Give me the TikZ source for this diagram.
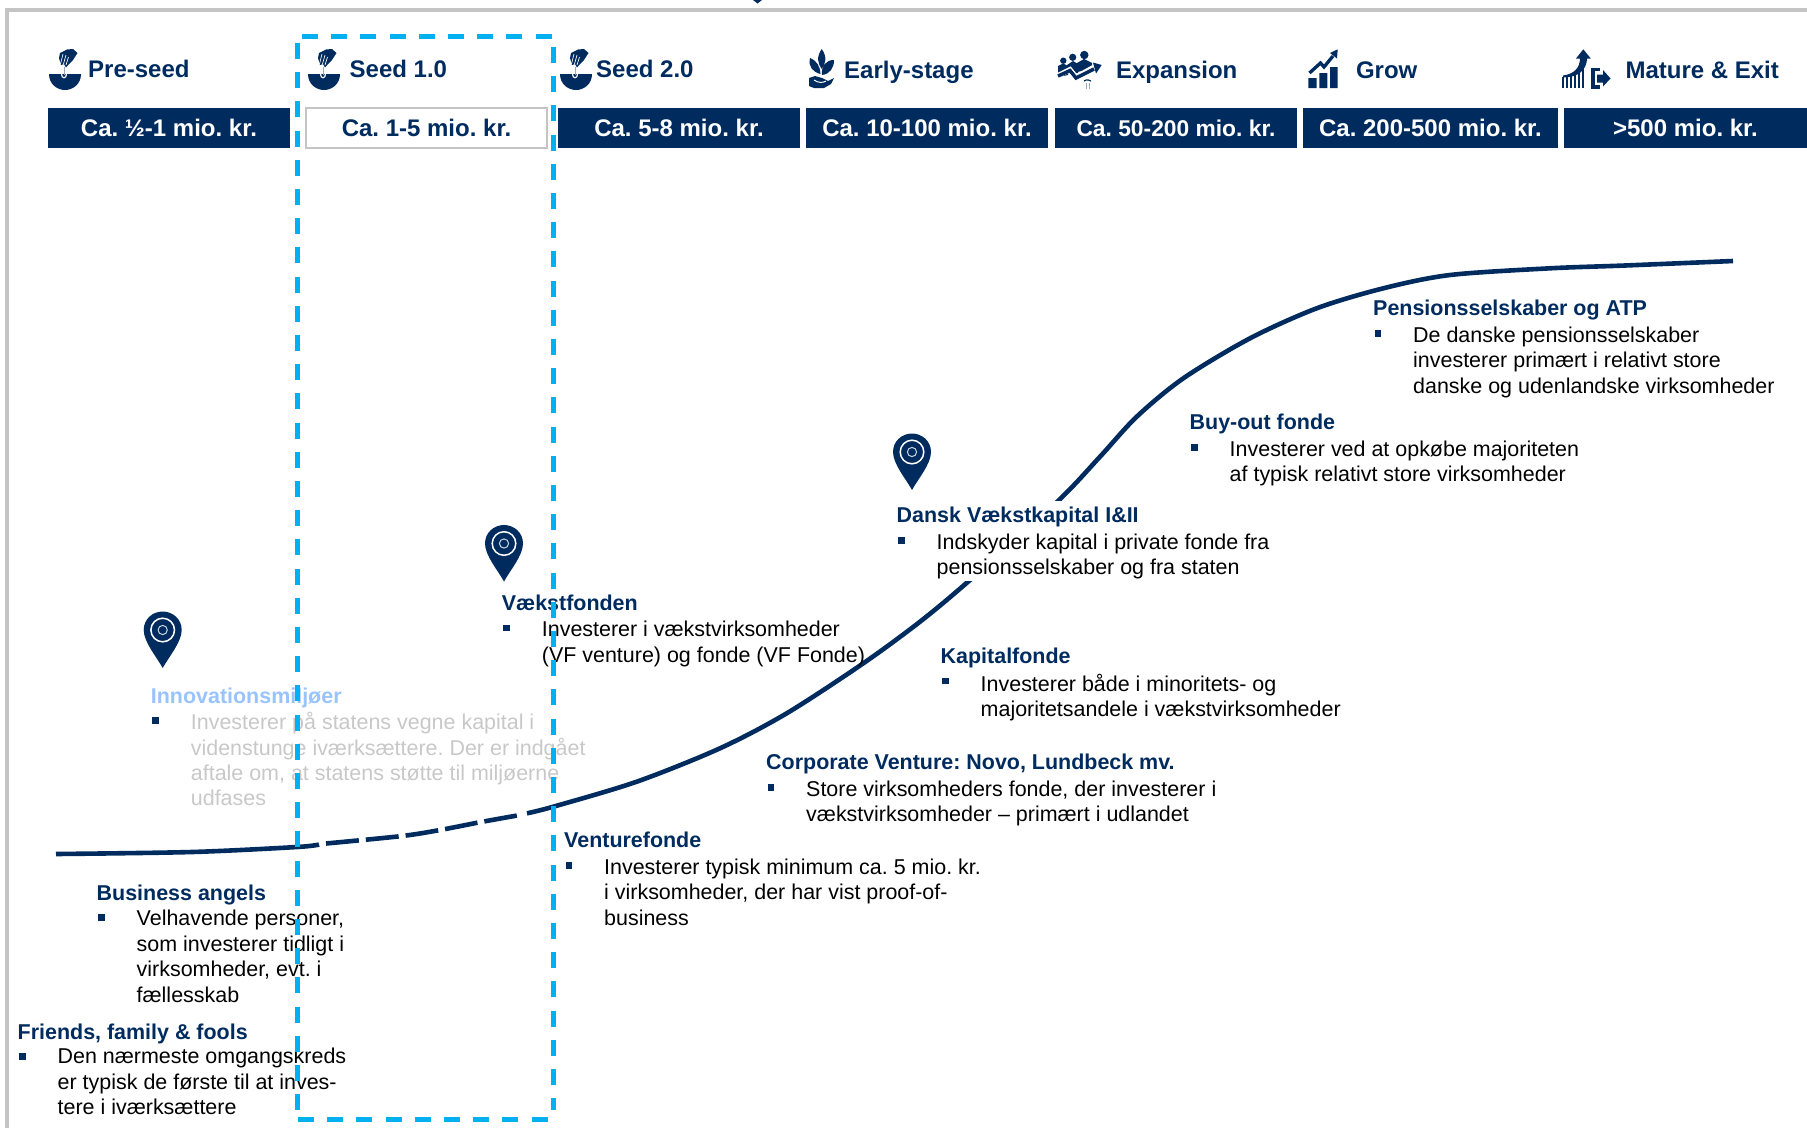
\documentclass[tikz,border=0pt]{standalone}
\usepackage{fontspec}
\setmainfont{Liberation Sans}
\frenchspacing
\usetikzlibrary{positioning}
\definecolor{navy}{HTML}{002B5F}
\definecolor{focusblue}{HTML}{00B0F0}
\definecolor{framegray}{HTML}{C4C4C4}
\definecolor{fadedhead}{HTML}{99C3FF}
\definecolor{fadedtext}{HTML}{C8C8C8}
\tikzset{
  stagebox/.style={
    fill=navy,
    text=white,
    minimum height=40pt,
    text height=17.2pt,
    text depth=0pt,
    inner sep=0pt,
    font=\bfseries\fontsize{24}{28}\selectfont
  },
  stagelabel/.style={
    anchor=base west,
    inner sep=0pt,
    text=navy,
    font=\bfseries\fontsize{24}{28}\selectfont
  },
  headtext/.style={
    anchor=base west,
    inner sep=0pt,
    text height=16pt,
    text depth=5pt,
    text=navy,
    font=\bfseries\fontsize{21.45}{25.4}\selectfont
  },
  bodytext/.style={
    anchor=north west,
    xshift=40pt,
    inner sep=0pt,
    align=left,
    font=\fontsize{21.45}{25.4}\selectfont,
    execute at begin node={\rule{0pt}{16pt}}
  },
  bulletmark/.style={
    fill=navy,
    minimum size=6.5pt,
    inner sep=0pt,
    xshift=5pt
  },
  focusedge/.style={
    focusblue,
    line width=5pt,
    dash pattern=on 16pt off 13.2pt
  },
  growthline/.style={
    navy,
    line width=4.6pt
  },
  mappin/.pic={
    \fill[navy] (0,38) .. controls (-6,27) and (-19,12) .. (-19,0) .. controls (-19,-11) and (-10,-18.5) .. (0,-18.5)
      .. controls (10,-18.5) and (19,-11) .. (19,0) .. controls (19,12) and (6,27) .. (0,38);
    \draw[white,line width=1.5pt] (0,0) circle (11.8pt);
    \draw[white!80!navy,line width=1pt] (0,0) circle (4.6pt);
  },
  seedicon/.pic={
    \fill[navy] (9,34) -- (41,34) .. controls (41,44) and (33,50) .. (25,50) .. controls (17,50) and (9,44) .. (9,34);
    \draw[white,line width=1.2pt] (21.5,34) .. controls (21.5,39) and (26.5,39) .. (26.5,34);
    \fill[navy] (33,9) -- (37.5,13) -- (33,20) -- (29,24) -- (26,27.5) -- (24,24) -- (21,25) -- (19,18) -- (20,13) -- (27,9.5) -- cycle;
    \draw[white,line width=.7pt] (23,14) -- (20.5,24) (26,15) -- (23.5,24) (28.5,17) -- (26,25);
    \draw[navy!40,line width=1pt] (24,27) -- (24,35);
  },
  sprouticon/.pic={
    \fill[navy] (21.7,9) .. controls (16,17) and (18,24) .. (21.7,29) .. controls (25.5,24) and (27.5,17) .. (21.7,9);
    \fill[navy] (10,18) .. controls (8,27) and (13,32) .. (20.5,34) .. controls (20,26) and (17,21) .. (10,18);
    \fill[navy] (34,20) .. controls (26,20) and (21,26) .. (22,35) .. controls (30,34) and (34,28) .. (34,20);
    \fill[navy] (9,38) -- (15,36) -- (22,38) -- (28,41) -- (34,38) -- (31,44) -- (24,48) -- (14,48) -- (9,46) -- cycle;
    \draw[white,line width=1pt] (14,40) .. controls (18,43) and (23,43) .. (26,41);
  },
  teamicon/.pic={
    \fill[navy] (13.3,20.7) circle (3.2pt) (22.7,17.3) circle (3.6pt) (34.3,15) circle (4.2pt);
    \fill[navy] (8,37) -- (8,26) -- (13,23.5) -- (18,26) -- (18,35) -- cycle;
    \fill[navy] (17,33) -- (17,25) -- (23,21) -- (28,24) -- (28,33) -- cycle;
    \fill[navy] (27,32) -- (27,23) -- (34,19) -- (42,23) -- (42,29) -- cycle;
    \draw[white,line width=5pt] (7,36) -- (20,29.5) -- (26,37) -- (44,27);
    \draw[navy,line width=3.4pt] (8,36) -- (20,30.5) -- (26,38) -- (44,29);
    \fill[navy] (51.7,25) -- (43,22.5) -- (46,33.5) -- cycle;
    \draw[navy,line width=1.2pt] (34,41) .. controls (37,39) and (39,40) .. (41,41);
    \draw[navy!40,line width=.8pt] (36,43) -- (36,49) (39,43) -- (39,49);
  },
  growicon/.pic={
    \fill[navy] (8.3,38) rectangle (16.7,48) (19.3,33) rectangle (27.3,48) (30,27) rectangle (37.7,48);
    \draw[navy,line width=3.3pt] (9.5,33) -- (20.5,23) -- (24,27) -- (33,16);
    \fill[navy] (37.7,9.3) -- (30,13) -- (37,18.5) -- cycle;
  },
  exiticon/.pic={
    \foreach \barx/\bartop in {13/37,17/37,21/36,25/34,29/31,33/28}
      \fill[navy] (\barx-1,\bartop) rectangle (\barx+1,48);
    \fill[navy] (13,35.5) .. controls (24,34) and (30,28) .. (30,18) -- (37,18) .. controls (37,30) and (28,37.5) .. (13,37.5) -- cycle;
    \fill[navy] (33.3,9.3) -- (26,18.5) -- (40.7,18.5) -- cycle;
    \draw[navy,line width=3.2pt] (50,29.5) -- (43,29.5) -- (43,47) -- (50,47);
    \fill[navy] (47,34.5) -- (53,34.5) -- (53,30) -- (60.5,38.5) -- (53,46.5) -- (53,42.5) -- (47,42.5) -- cycle;
  }
}

\begin{document}
\begin{tikzpicture}[x=1pt,y=-1pt]
        \useasboundingbox (0,0) rectangle (1807,1128);

        \draw[framegray,line width=4pt] (7,1128) -- (7,10) -- (1807,10);
        \fill[navy] (753,0) -- (762,0) -- (757.5,3.5) -- cycle;

        \pic at (40,40) {seedicon};
        \pic at (299,40) {seedicon};
        \pic at (551,40) {seedicon};
        \pic at (800,40) {sprouticon};
        \pic at (1050,40) {teamicon};
        \pic at (1300,40) {growicon};
        \pic at (1550,40) {exiticon};

        \node [stagelabel] (PreSeed) at (88,77) {Pre-seed};
        \node [stagelabel] (SeedOne) at (349.5,77) {Seed 1.0};
        \node [stagelabel] (SeedTwo) at (596,77) {Seed 2.0};
        \node [stagelabel] (EarlyStage) at (844,78) {Early-stage};
        \node [stagelabel] (Expansion) at (1115.8,78) {Expansion};
        \node [stagelabel] (Grow) at (1355.8,78) {Grow};
        \node [stagelabel] (Mature) at (1625.3,78) {Mature \& Exit};

        \node [stagebox, minimum width=242pt] (Box1) at (169,128) {Ca. ½-1 mio. kr.};
        \node [on grid, right=257.5pt of Box1, stagebox, minimum width=241pt, fill=white, text=navy, draw=framegray, line width=1.5pt] (Box2) {Ca. 1-5 mio. kr.};
        \node [on grid, right=252.5pt of Box2, stagebox, minimum width=242pt] (Box3) {Ca. 5-8 mio. kr.};
        \node [on grid, right=248pt of Box3, stagebox, minimum width=242pt] (Box4) {Ca. 10-100 mio. kr.};
        \node [on grid, right=249pt of Box4, stagebox, minimum width=242pt, font=\bfseries\fontsize{22.8}{28}\selectfont] (Box5) {Ca. 50-200 mio. kr.};
        \node [on grid, right=254.5pt of Box5, stagebox, minimum width=255pt] (Box6) {Ca. 200-500 mio. kr.};
        \node [on grid, right=255pt of Box6, stagebox, minimum width=243pt] (Box7) {>500 mio. kr.};

        \draw[growthline] plot[smooth,tension=.5] coordinates {(56,854) (192,852) (297,847) (319,844.5)};
        \draw[growthline,dash pattern=on 33pt off 7pt] plot[smooth,tension=.5] coordinates {(326,843.5) (402,836) (440,830) (481,822) (520,815)};
        \draw[growthline] plot[smooth,tension=.5] coordinates {(527,813.3) (553.3,806.7) (636.7,781.7) (720,748.3) (786.7,713.3) (863.3,663.3) (920,621.7) (970,580) (1057.3,501.7) (1100,456.7) (1136.7,416.7) (1183.3,378.3) (1250,338.3) (1316.7,308.3) (1383.3,288.3) (1450,275) (1550,268.3) (1625,265.5) (1733,261)};
        \fill[white] (890,501) rectangle (1280,581);

        \pic at (504,543.5) {mappin};
        \pic at (162.7,630) {mappin};
        \pic at (912,452) {mappin};

        \node [headtext] (Friends) at (17.5,1039) {Friends, family \& fools};
        \node [below=8.75pt of Friends.south west, bulletmark] (FriendsDot) {};
        \node [below=4pt of Friends.south west, bodytext] (FriendsText) {Den nærmeste omgangskreds\\er typisk de første til at inves-\\tere i iværksættere};

        \node [headtext] (Angels) at (96.5,900) {Business angels};
        \node [below=8.75pt of Angels.south west, bulletmark] (AngelsDot) {};
        \node [below=5pt of Angels.south west, bodytext] (AngelsText) {Velhavende personer,\\som investerer tidligt i\\virksomheder, evt. i\\fællesskab};

        \node [headtext, text=fadedhead] (Innovation) at (150.7,703) {Innovationsmiljøer};
        \node [below=8.75pt of Innovation.south west, bulletmark] (InnovationDot) {};
        \node [below=4pt of Innovation.south west, bodytext, text=fadedtext] (InnovationText) {Investerer på statens vegne kapital i\\videnstunge iværksættere. Der er indgået\\aftale om, at statens støtte til miljøerne\\udfases};

        \node [headtext] (Vaekst) at (501.7,610.5) {Vækstfonden};
        \node [below=8.75pt of Vaekst.south west, bulletmark] (VaekstDot) {};
        \node [below=5.3pt of Vaekst.south west, bodytext] (VaekstText) {Investerer i vækstvirksomheder\\(VF venture) og fonde (VF Fonde)};

        \node [headtext] (Venture) at (564,847.5) {Venturefonde};
        \node [below=9.25pt of Venture.south west, bulletmark] (VentureDot) {};
        \node [below=6pt of Venture.south west, bodytext] (VentureText) {Investerer typisk minimum ca. 5 mio. kr.\\i virksomheder, der har vist proof-of-\\business};

        \node [headtext] (Corporate) at (766,769.5) {Corporate Venture: Novo, Lundbeck mv.};
        \node [below=9.25pt of Corporate.south west, bulletmark] (CorporateDot) {};
        \node [below=6pt of Corporate.south west, bodytext] (CorporateText) {Store virksomheders fonde, der investerer i\\vækstvirksomheder -- primært i udlandet};

        \node [headtext] (Kapital) at (940.5,663.5) {Kapitalfonde};
        \node [below=8.75pt of Kapital.south west, bulletmark] (KapitalDot) {};
        \node [below=4.8pt of Kapital.south west, bodytext] (KapitalText) {Investerer både i minoritets- og\\majoritetsandele i vækstvirksomheder};

        \node [headtext] (Dansk) at (896.5,522.5) {Dansk Vækstkapital I\&II};
        \node [below=9.25pt of Dansk.south west, bulletmark] (DanskDot) {};
        \node [below=5.8pt of Dansk.south west, bodytext] (DanskText) {Indskyder kapital i private fonde fra\\pensionsselskaber og fra staten};

        \node [headtext] (Buyout) at (1189.5,429.5) {Buy-out fonde};
        \node [below=9.25pt of Buyout.south west, bulletmark] (BuyoutDot) {};
        \node [below=5.8pt of Buyout.south west, bodytext] (BuyoutText) {Investerer ved at opkøbe majoriteten\\af typisk relativt store virksomheder};

        \node [headtext] (Pension) at (1373,315.5) {Pensionsselskaber og ATP};
        \node [below=9.25pt of Pension.south west, bulletmark] (PensionDot) {};
        \node [below=6pt of Pension.south west, bodytext] (PensionText) {De danske pensionsselskaber\\investerer primært i relativt store\\danske og udenlandske virksomheder};

        \draw[focusedge] (302,36) -- (553,36);
        \draw[focusedge] (297,43) -- (297,1110);
        \draw[focusedge] (553,47) -- (553,1110);
        \draw[focusedge] (298,1119) -- (550,1119);
      \end{tikzpicture}
\end{document}
